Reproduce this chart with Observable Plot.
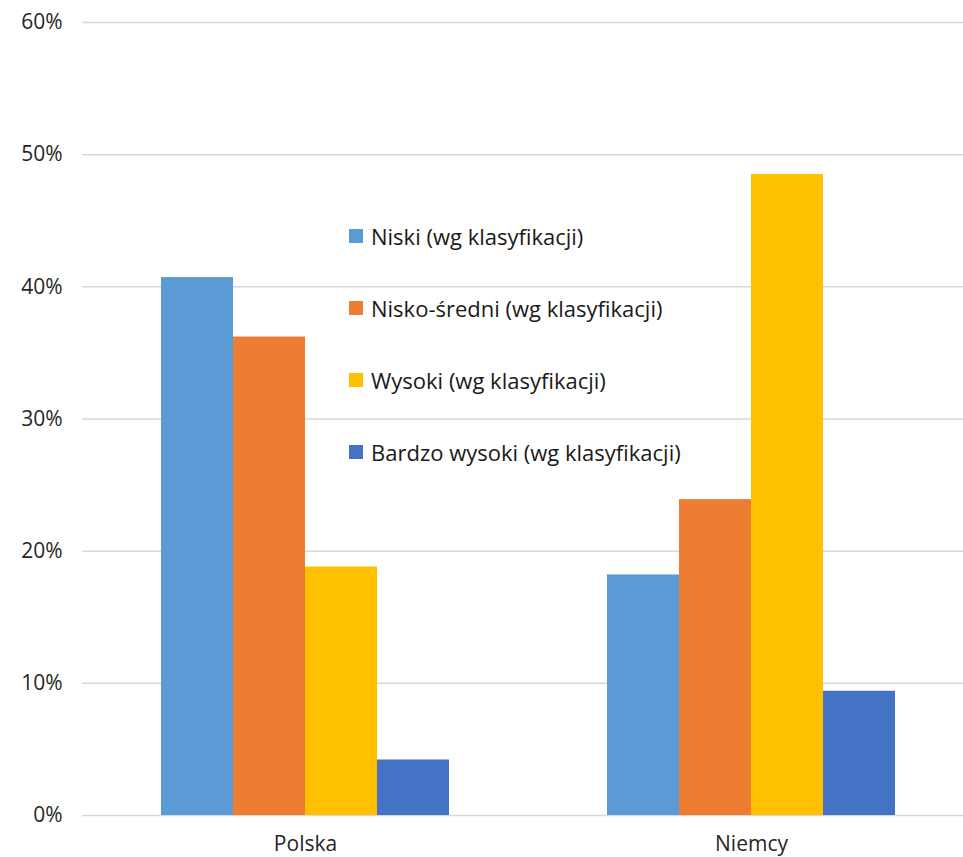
<!DOCTYPE html>
<html>
<head>
<meta charset="utf-8">
<script src="https://cdn.jsdelivr.net/npm/d3@7"></script>
<script src="https://cdn.jsdelivr.net/npm/@observablehq/plot@0.6"></script>
<style>
  html, body { margin: 0; padding: 0; background: #fff; overflow: hidden; }
  #wrap { position: relative; width: 963px; height: 857px; }
  .legend { position: absolute; left: 349px; top: 0; font-family: "Open Sans", sans-serif; font-size: 22px; color: #1a1a1a; }
  .item { position: absolute; left: 0; white-space: nowrap; display: flex; align-items: center; height: 30px; }
  .sw { width: 14px; height: 14px; margin-right: 8px; flex: none; }
</style>
</head>
<body>
<div id="wrap"></div>
<script>
const countries = ["Polska", "Niemcy"];
const series = [
  "Niski (wg klasyfikacji)",
  "Nisko-średni (wg klasyfikacji)",
  "Wysoki (wg klasyfikacji)",
  "Bardzo wysoki (wg klasyfikacji)"
];
const polska = [0.407, 0.362, 0.188, 0.042];
const niemcy = [0.182, 0.239, 0.485, 0.094];
const colors = ["#5B9BD5", "#ED7D31", "#FFC000", "#4472C4"];
const yTicks = [0, 0.1, 0.2, 0.3, 0.4, 0.5, 0.6];

const values = { "Polska": polska, "Niemcy": niemcy };
const data = [];
for (const c of countries) {
  series.forEach((s, i) => data.push({ country: c, series: s, value: values[c][i] }));
}

const chart = Plot.plot({
  width: 963,
  height: 857,
  marginLeft: 82,
  marginRight: -11,
  marginTop: 22,
  marginBottom: 42,
  style: { fontFamily: "'Open Sans', sans-serif", fontSize: "21px", color: "#262626", background: "white", overflow: "visible" },
  fx: { domain: countries, padding: 0, label: null, axis: "bottom", tickSize: 0, tickPadding: 21 },
  x: { domain: series, axis: null, paddingInner: 0, paddingOuter: 1.097 },
  y: { domain: [0, 0.6], ticks: yTicks, tickFormat: d3.format(".0%"), tickSize: 0, tickPadding: 20, label: null },
  color: { domain: series, range: colors },
  marks: [
    Plot.gridY(yTicks, { stroke: "#d9d9d9", strokeOpacity: 1, strokeWidth: 1.5 }),
    Plot.barY(data, { fx: "country", x: "series", y: "value", fill: "series" })
  ]
});

const wrap = document.getElementById("wrap");
wrap.appendChild(chart);

const legend = document.createElement("div");
legend.className = "legend";
const rowCenters = [236, 308, 380, 452];
series.forEach((s, i) => {
  const it = document.createElement("div");
  it.className = "item";
  it.style.top = (rowCenters[i] - 15) + "px";
  const sw = document.createElement("span");
  sw.className = "sw";
  sw.style.background = colors[i];
  const t = document.createElement("span");
  t.textContent = s;
  it.appendChild(sw);
  it.appendChild(t);
  legend.appendChild(it);
});
wrap.appendChild(legend);
</script>
</body>
</html>
